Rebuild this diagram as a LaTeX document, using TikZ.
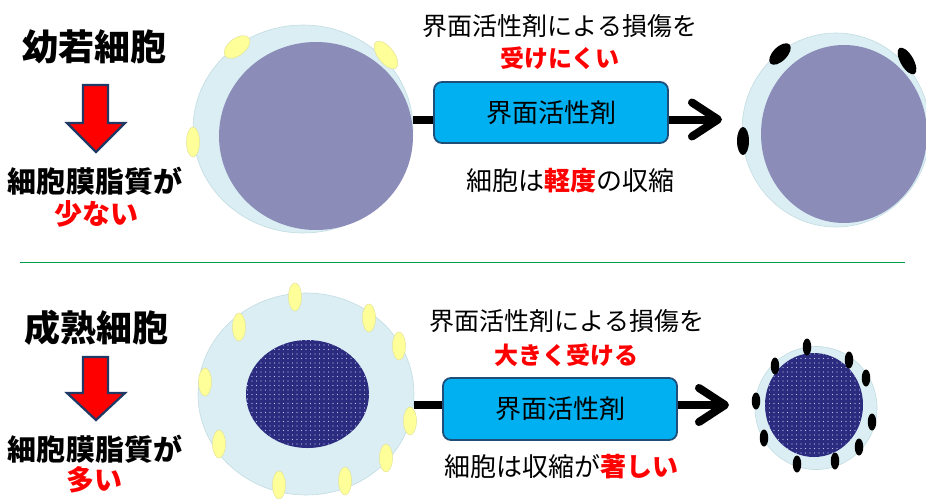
\documentclass[tikz,border=0pt]{standalone}
\usepackage{fontspec}
\setmainfont{Noto Sans CJK JP}
\usetikzlibrary{shapes.geometric,arrows.meta,patterns.meta}

\definecolor{membrane}{HTML}{DAEEF3}
\definecolor{membraneEdge}{HTML}{C2DCE2}
\definecolor{lipid}{HTML}{FFFF99}
\definecolor{lipidEdge}{HTML}{E2E29A}
\definecolor{nucleusLight}{HTML}{8C8CB9}
\definecolor{nucleusDark}{HTML}{2B2B7F}
\definecolor{nucleusDot}{HTML}{C4C4EC}
\definecolor{agentFill}{HTML}{00B0F0}
\definecolor{agentEdge}{HTML}{1F4E79}
\definecolor{alertRed}{HTML}{FF0000}
\definecolor{arrowEdge}{HTML}{1F3864}
\definecolor{divider}{HTML}{00A04A}

\tikzset{
  fs/.style={font=\fontsize{#1}{#1}\selectfont},
  fsb/.style={font=\fontsize{#1}{#1}\selectfont\bfseries},
  label/.style={inner sep=0pt, text=black},
  membranebody/.style={ellipse, inner sep=0pt, fill=membrane, draw=membraneEdge, line width=0.6pt},
  nucleuslight/.style={ellipse, inner sep=0pt, fill=nucleusLight},
  nucleusdark/.style={ellipse, inner sep=0pt, fill=nucleusDark,
    postaction={pattern={Dots[distance=4.5pt, radius=0.6pt]}, pattern color=nucleusDot}},
  lipidy/.style={ellipse, inner sep=0pt, fill=lipid, draw=lipidEdge, line width=0.5pt},
  lipidk/.style={ellipse, inner sep=0pt, fill=black},
  agentbox/.style={rectangle, rounded corners=8pt, fill=agentFill, draw=agentEdge,
    line width=1.8pt, inner sep=0pt, fs=26},
  conn/.style={line width=8pt, draw=black},
  chevron/.style={-{Straight Barb[length=26pt, width=34pt, line cap=round, line join=round]}},
  downarrow/.style={fill=alertRed, draw=arrowEdge, line width=2.2pt, line join=miter},
  divide/.style={draw=divider, line width=1pt}
}

\begin{document}
\begin{tikzpicture}[x=1pt, y=-1pt]
\useasboundingbox (0,0) rectangle (926,498);

% ---------- upper row: young cell ----------
\node[label, fsb=36] (titleA) at (95,47) {幼若細胞};
\draw[downarrow] (83,85) -- (108,85) -- (108,123) -- (125,123) -- (96,152)
  -- (67,123) -- (83,123) -- cycle;
\node[label, fsb=29] (lipidA) at (95,181) {細胞膜脂質が};
\node[label, fsb=28, text=alertRed] (fewA) at (96,214) {少ない};

\node[membranebody, minimum width=220pt, minimum height=208pt] (cellA) at (303,129) {};
\node[nucleuslight, minimum width=194pt, minimum height=188pt] (nucA) at (316,136) {};
\node[lipidy, minimum width=30pt, minimum height=17pt, rotate=38] (lyA1) at (237,47) {};
\node[lipidy, minimum width=33pt, minimum height=16pt, rotate=-52] (lyA2) at (386,55) {};
\node[lipidy, minimum width=30pt, minimum height=13pt, rotate=90] (lyA3) at (193,142) {};

\node[agentbox, minimum width=234pt, minimum height=61pt] (agentA) at (551,112.5) {界面活性剤};
\node[label, fs=25] (dmgA) at (560,26) {界面活性剤による損傷を};
\node[label, fsb=24, text=alertRed] (dmgA2) at (560,58) {受けにくい};
\node[label, fs=26] (resA) at (570,181) {細胞は{\bfseries\color{alertRed}軽度}の収縮};

\node[membranebody, minimum width=188pt, minimum height=194pt] (cellA2) at (836,130) {};
\node[nucleuslight, minimum width=166pt, minimum height=178pt] (nucA2) at (844,134) {};
\node[lipidk, minimum width=27pt, minimum height=14pt, rotate=45] (lkA1) at (780,54) {};
\node[lipidk, minimum width=30pt, minimum height=13pt, rotate=-60] (lkA2) at (907,61) {};
\node[lipidk, minimum width=28pt, minimum height=12pt, rotate=90] (lkA3) at (743,141) {};

\coordinate (inA) at ([yshift=-7pt]agentA.west);
\coordinate (outA) at ([yshift=-7pt]agentA.east);
\coordinate (tipA) at (722,119.5);
\draw[conn] (cellA.east |- inA) -- (inA);
\draw[conn, chevron] (outA) -- (tipA);

% ---------- divider ----------
\draw[divide] (20,262) -- (905,262);

% ---------- lower row: mature cell ----------
\node[label, fsb=36] (titleB) at (96,328) {成熟細胞};
\draw[downarrow] (83,357) -- (108,357) -- (108,393) -- (125,393) -- (96,420)
  -- (67,393) -- (83,393) -- cycle;
\node[label, fsb=29] (lipidB) at (95,449) {細胞膜脂質が};
\node[label, fsb=28, text=alertRed] (manyB) at (94,480) {多い};

\node[membranebody, minimum width=216pt, minimum height=202pt] (cellB) at (306,394) {};
\node[nucleusdark, minimum width=123pt, minimum height=108pt] (nucB) at (307.5,394) {};
\foreach \px/\py [count=\i] in {295/297, 239/327, 369/318, 399/346, 205/382,
    410/421, 219/444, 386/458, 345/481, 279/485}
  \node[lipidy, minimum width=13pt, minimum height=28pt] (lyB\i) at (\px,\py) {};

\node[agentbox, minimum width=234pt, minimum height=62pt] (agentB) at (560,409) {界面活性剤};
\node[label, fs=25] (dmgB) at (567,321) {界面活性剤による損傷を};
\node[label, fsb=24, text=alertRed] (dmgB2) at (566,355) {大きく受ける};
\node[label, fs=26] (resB) at (561,467) {細胞は収縮が{\bfseries\color{alertRed}著しい}};

\node[membranebody, minimum width=122pt, minimum height=123pt] (cellB2) at (816,408) {};
\node[nucleusdark, minimum width=98pt, minimum height=104pt] (nucB2) at (814,405) {};
\foreach \px/\py [count=\i] in {807/347, 775/366, 849/360, 866/378, 756/401,
    872/422, 764/438, 859/447, 835/461, 797/464}
  \node[lipidk, minimum width=8.5pt, minimum height=17pt] (lkB\i) at (\px,\py) {};

\coordinate (inB) at ([yshift=4pt]agentB.west);
\coordinate (outB) at ([yshift=4pt]agentB.east);
\coordinate (tipB) at (729,405);
\draw[conn] (cellB.east |- inB) -- (inB);
\draw[conn, chevron] (outB) -- (tipB);
\end{tikzpicture}
\end{document}
